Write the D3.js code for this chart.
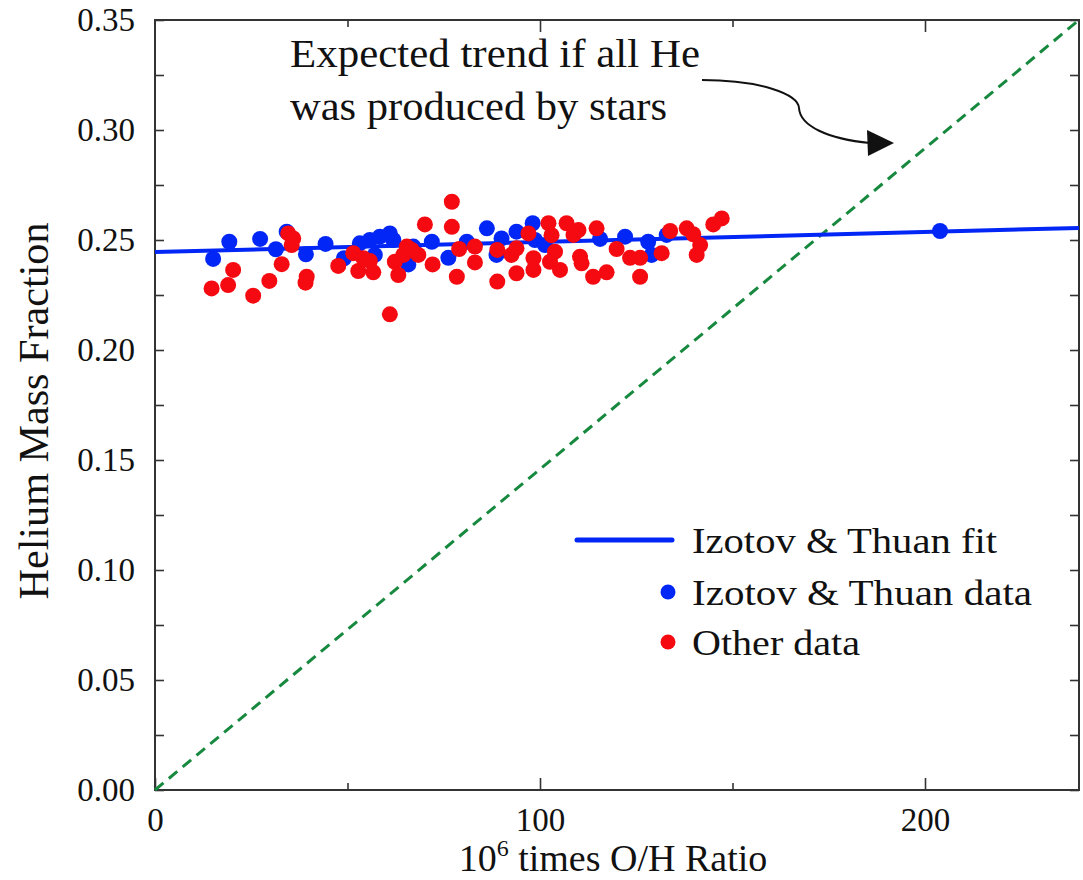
<!DOCTYPE html>
<html>
<head>
<meta charset="utf-8">
<script src="https://cdn.jsdelivr.net/npm/d3@7"></script>
<style>
  html, body { margin: 0; padding: 0; background: #fff; }
  text { font-family: "Liberation Serif", "Times New Roman", serif; fill: #111; }
</style>
</head>
<body>
<div id="chart"></div>
<script>
// Izotov & Thuan data (blue)
const itX = [15.1, 19.3, 27.3, 31.4, 34.2, 39.2, 44.3, 49.1, 53.2, 55.8, 57.1, 58.4, 61.0, 61.9,
  65.8, 67.1, 71.9, 76.2, 81.0, 86.2, 88.7, 90.0, 93.9, 98.1, 98.7, 101.3, 115.6, 122.1, 128.1,
  129.0, 132.9, 203.9];
const itY = [0.2414, 0.2492, 0.2505, 0.2458, 0.2538, 0.2435, 0.2482, 0.2417, 0.2485, 0.2500, 0.2432,
  0.2515, 0.2530, 0.2500, 0.2389, 0.2470, 0.2492, 0.2419, 0.2492, 0.2553, 0.2432, 0.2507, 0.2538,
  0.2576, 0.2500, 0.2477, 0.2505, 0.2515, 0.2492, 0.2432, 0.2523, 0.2541];

// Other data (red)
const otX = [14.7, 19.0, 20.3, 25.5, 29.7, 32.9, 34.6, 35.9, 35.5, 39.4, 39.1, 47.6, 51.5, 52.8,
  54.1, 55.8, 56.7, 61.0, 62.3, 63.2, 64.5, 65.4, 66.7, 68.4, 70.1, 72.1, 77.1, 77.1, 78.4, 79.0,
  83.1, 83.1, 88.9, 88.9, 92.6, 93.9, 93.9, 97.0, 98.3, 98.3, 102.2, 103.0, 103.9, 102.6, 105.2,
  106.9, 108.7, 110.0, 110.4, 110.8, 113.8, 114.7, 117.3, 119.9, 123.4, 126.0, 126.0, 131.6, 133.8,
  138.1, 139.8, 141.6, 140.7, 145.0, 147.2];
const otY = [0.2280, 0.2295, 0.2364, 0.2247, 0.2314, 0.2390, 0.2530, 0.2507, 0.2477, 0.2333, 0.2306,
  0.2382, 0.2440, 0.2359, 0.2417, 0.2405, 0.2353, 0.2162, 0.2401, 0.2341, 0.2432, 0.2470, 0.2455,
  0.2432, 0.2571, 0.2389, 0.2674, 0.2560, 0.2333, 0.2459, 0.2470, 0.2398, 0.2455, 0.2311, 0.2432,
  0.2462, 0.2349, 0.2530, 0.2417, 0.2364, 0.2576, 0.2522, 0.2447, 0.2401, 0.2364, 0.2576, 0.2523,
  0.2545, 0.2424, 0.2394, 0.2333, 0.2553, 0.2353, 0.2459, 0.2419, 0.2419, 0.2333, 0.2440, 0.2541,
  0.2553, 0.2526, 0.2477, 0.2432, 0.2571, 0.2598];

// fit line and "all stars" trend
const fitX = [0, 240];
const fitY = [0.2445, 0.2555];
const trendX = [0, 240];
const trendY = [0, 0.35];

// ticks
const xMajor = [0, 100, 200];
const xMinor = [50, 150];
const yMajor = [0, 0.05, 0.10, 0.15, 0.20, 0.25, 0.30, 0.35];
const yMinor = [0.025, 0.075, 0.125, 0.175, 0.225, 0.275, 0.325];

const legendLabels = ["Izotov & Thuan fit", "Izotov & Thuan data", "Other data"];

const blue = "#0226f6";
const red = "#f40a10";
const green = "#17893f";
const frame = "#333";

const width = 1083, height = 880;
const pl = 155, pr = 1079, pt = 20, pb = 790;

const svg = d3.select("#chart").append("svg")
  .attr("width", width)
  .attr("height", height);

const x = d3.scaleLinear().domain([0, 240]).range([pl, pr]);
const y = d3.scaleLinear().domain([0, 0.35]).range([pb, pt]);

// axes (ticks inward)
function styleAxis(g) {
  g.select(".domain").remove();
  g.selectAll(".tick line").attr("stroke", frame).attr("stroke-width", 1.6);
  g.selectAll(".tick text").attr("fill", "#111").attr("font-family", "Liberation Serif").attr("font-size", 33);
}

svg.append("g").attr("transform", `translate(0,${pb})`)
  .call(d3.axisBottom(x).tickValues(xMajor).tickSizeInner(-12).tickSizeOuter(0).tickPadding(18).tickFormat(d3.format("d")))
  .call(styleAxis);
svg.append("g").attr("transform", `translate(0,${pb})`)
  .call(d3.axisBottom(x).tickValues(xMinor).tickSizeInner(-7).tickSizeOuter(0).tickFormat(""))
  .call(styleAxis);
svg.append("g").attr("transform", `translate(0,${pt})`)
  .call(d3.axisTop(x).tickValues(xMajor.slice(1)).tickSizeInner(-12).tickSizeOuter(0).tickFormat(""))
  .call(styleAxis);
svg.append("g").attr("transform", `translate(0,${pt})`)
  .call(d3.axisTop(x).tickValues(xMinor).tickSizeInner(-7).tickSizeOuter(0).tickFormat(""))
  .call(styleAxis);

svg.append("g").attr("transform", `translate(${pl},0)`)
  .call(d3.axisLeft(y).tickValues(yMajor).tickSizeInner(-9).tickSizeOuter(0).tickPadding(20).tickFormat(d3.format(".2f")))
  .call(styleAxis);
svg.append("g").attr("transform", `translate(${pl},0)`)
  .call(d3.axisLeft(y).tickValues(yMinor).tickSizeInner(-9).tickSizeOuter(0).tickFormat(""))
  .call(styleAxis);
svg.append("g").attr("transform", `translate(${pr},0)`)
  .call(d3.axisRight(y).tickValues(yMajor.concat(yMinor)).tickSizeInner(-9).tickSizeOuter(0).tickFormat(""))
  .call(styleAxis);

svg.append("rect")
  .attr("x", pl).attr("y", pt)
  .attr("width", pr - pl).attr("height", pb - pt)
  .attr("fill", "none").attr("stroke", frame).attr("stroke-width", 2);

// axis titles
svg.append("text")
  .attr("transform", `translate(48,${(pt + pb) / 2 + 6}) rotate(-90)`)
  .attr("text-anchor", "middle")
  .attr("font-size", 42)
  .attr("textLength", 377).attr("lengthAdjust", "spacingAndGlyphs")
  .text("Helium Mass Fraction");

const xt = svg.append("text")
  .attr("x", 613).attr("y", 871)
  .attr("text-anchor", "middle")
  .attr("font-size", 38);
xt.append("tspan").text("10");
xt.append("tspan").attr("dy", -15).attr("font-size", 24).text("6");
xt.append("tspan").attr("dy", 15).text(" times O/H Ratio");

// lines
const line = d3.line().x(d => x(d[0])).y(d => y(d[1]));

svg.append("path")
  .datum(d3.zip(trendX, trendY))
  .attr("d", line)
  .attr("fill", "none")
  .attr("stroke", green)
  .attr("stroke-width", 3)
  .attr("stroke-dasharray", "11,7");

svg.append("path")
  .datum(d3.zip(fitX, fitY))
  .attr("d", line)
  .attr("fill", "none")
  .attr("stroke", blue)
  .attr("stroke-width", 4);

// points
svg.append("g").selectAll("circle")
  .data(d3.zip(itX, itY))
  .enter().append("circle")
  .attr("cx", d => x(d[0]))
  .attr("cy", d => y(d[1]))
  .attr("r", 8)
  .attr("fill", blue);

svg.append("g").selectAll("circle")
  .data(d3.zip(otX, otY))
  .enter().append("circle")
  .attr("cx", d => x(d[0]))
  .attr("cy", d => y(d[1]))
  .attr("r", 8)
  .attr("fill", red);

// annotation
const note = svg.append("g");
note.append("text").attr("x", 290).attr("y", 67).attr("font-size", 39)
  .attr("textLength", 410).attr("lengthAdjust", "spacingAndGlyphs")
  .text("Expected trend if all He");
note.append("text").attr("x", 290).attr("y", 120).attr("font-size", 39)
  .attr("textLength", 377).attr("lengthAdjust", "spacingAndGlyphs")
  .text("was produced by stars");
note.append("path")
  .attr("d", "M702,80 C760,80 798,94 799,108 C800,126 828,139 870,143")
  .attr("fill", "none").attr("stroke", "#111").attr("stroke-width", 2);
note.append("path")
  .attr("d", "M894,143 L867,130 L868,156 Z")
  .attr("fill", "#111");

// legend
const lg = svg.append("g");
lg.append("line").attr("x1", 577).attr("x2", 672).attr("y1", 540).attr("y2", 540)
  .attr("stroke", blue).attr("stroke-width", 5).attr("stroke-linecap", "round");
lg.append("circle").attr("cx", 668).attr("cy", 592).attr("r", 7.5).attr("fill", blue);
lg.append("circle").attr("cx", 668).attr("cy", 642).attr("r", 7.5).attr("fill", red);
const lgY = [553, 605, 655];
const lgW = [305, 340, 168];
legendLabels.forEach((t, i) => {
  lg.append("text").attr("x", 692).attr("y", lgY[i]).attr("font-size", 36)
    .attr("textLength", lgW[i]).attr("lengthAdjust", "spacingAndGlyphs")
    .text(t);
});
</script>
</body>
</html>
